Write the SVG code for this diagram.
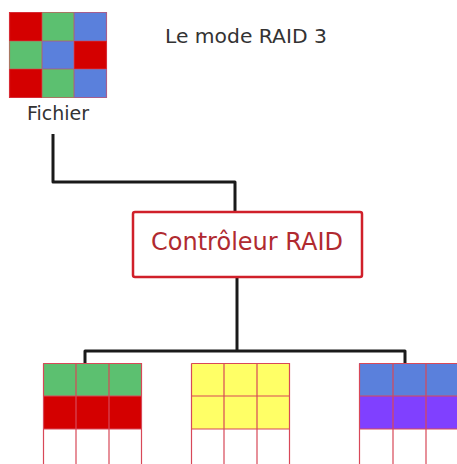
<svg xmlns="http://www.w3.org/2000/svg" width="457" height="464" viewBox="0 0 457 464">
<style>
.t{font-family:"DejaVu Sans","Verdana",sans-serif;fill:#333}
.r{fill:#d40000}.g{fill:#5cc070}.b{fill:#5a80dc}.y{fill:#ffff66}.p{fill:#8040ff}.w{fill:#fff}
.gl{stroke:#d84858;stroke-width:1.2;fill:none}
.c{fill:none;stroke:#1a1a1a;stroke-width:3;stroke-linejoin:round}
</style>
<rect width="457" height="464" fill="#fff"/>
<g id="fichier">
<rect class="r" x="9" y="12" width="33" height="29"/>
<rect class="g" x="42" y="12" width="32" height="29"/>
<rect class="b" x="74" y="12" width="33" height="29"/>
<rect class="g" x="9" y="41" width="33" height="28"/>
<rect class="b" x="42" y="41" width="32" height="28"/>
<rect class="r" x="74" y="41" width="33" height="28"/>
<rect class="r" x="9" y="69" width="33" height="29"/>
<rect class="g" x="42" y="69" width="32" height="29"/>
<rect class="b" x="74" y="69" width="33" height="29"/>
<path class="gl" d="M9.5 12.5H106.5V97.5H9.5Z M42 12V98 M74 12V98 M9 41H107 M9 69H107" stroke-opacity="0.6"/>
<text class="t" x="58" y="120" font-size="19" text-anchor="middle">Fichier</text>
</g>
<g id="titre">
<text class="t" x="165" y="43" font-size="20.3">Le mode RAID 3</text>
</g>
<g id="connecteurs">
<path class="c" d="M53 134V182H235V212"/>
<path class="c" d="M237 277V351"/>
<path class="c" d="M85 363V351H405V363"/>
</g>
<g id="controleur">
<rect x="133" y="212" width="229" height="65" rx="2" fill="#fff" stroke="#d0202a" stroke-width="2.5"/>
<text x="247" y="250" font-family="DejaVu Sans,Verdana,sans-serif" font-size="24" fill="#b02a30" text-anchor="middle">Contrôleur RAID</text>
</g>
<g id="disque1">
<rect class="g" x="43" y="363" width="99" height="33"/>
<rect class="r" x="43" y="396" width="99" height="33"/>
<rect class="w" x="43" y="429" width="99" height="33"/>
<path class="gl" d="M43.5 363.5H141.5V464 M43.5 363.5V464 M76 363V464 M109 363V464 M43 396H142 M43 429H142"/>
</g>
<g id="disque2">
<rect class="y" x="191" y="363" width="99" height="66"/>
<rect class="w" x="191" y="429" width="99" height="33"/>
<path class="gl" d="M191.5 363.5H289.5V464 M191.5 363.5V464 M224 363V464 M257 363V464 M191 396H290 M191 429H290"/>
</g>
<g id="disque3">
<rect class="b" x="359" y="363" width="99" height="33"/>
<rect class="p" x="359" y="396" width="99" height="33"/>
<rect class="w" x="359" y="429" width="99" height="33"/>
<path class="gl" d="M359.5 363.5H458 M359.5 363.5V464 M393 363V464 M426 363V464 M359 396H458 M359 429H458"/>
</g>
</svg>
